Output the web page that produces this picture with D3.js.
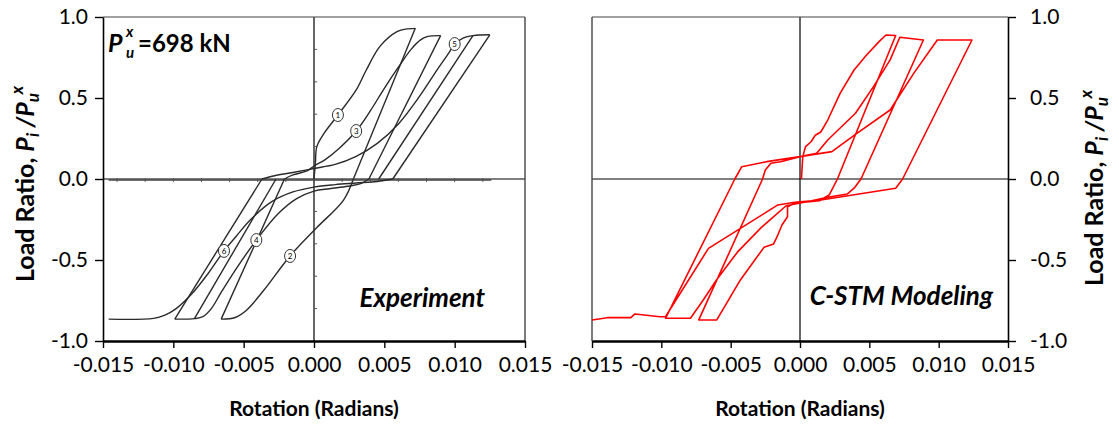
<!DOCTYPE html>
<html>
<head>
<meta charset="utf-8">
<script src="https://cdn.jsdelivr.net/npm/d3@7"></script>
<style>
  body { margin: 0; background: #fff; }
  svg { display: block; }
  text { font-family: Lato, "Open Sans", "Liberation Sans", sans-serif; fill: #000; }
</style>
</head>
<body>
<svg id="chart" width="1119" height="425"></svg>
<script>
// ---- axis ticks ----
const rotationTicks = [-0.015, -0.010, -0.005, 0.000, 0.005, 0.010, 0.015];
const loadTicks = [-1.0, -0.5, 0.0, 0.5, 1.0];

// ---- Experiment: loading branches [rotation, load ratio] ----
const expBranch1 = [[0, 0], [0.0001, 0.1], [0.0002, 0.2], [0.0007, 0.28], [0.0017, 0.395], [0.0030, 0.55],
  [0.0037, 0.67], [0.0047, 0.82], [0.0059, 0.91], [0.0065, 0.925], [0.0072, 0.93]];
const expBranch2 = [[0.0028, 0], [0.0021, -0.13], [0.0002, -0.30], [-0.0017, -0.475], [-0.0036, -0.69],
  [-0.0048, -0.81], [-0.0056, -0.855], [-0.0066, -0.865]];
const expBranch3 = [[-0.0021, 0], [-0.0015, 0.025], [-0.0005, 0.05], [0, 0.08], [0.0008, 0.12], [0.0018, 0.19],
  [0.0030, 0.296], [0.0040, 0.42], [0.0050, 0.56], [0.0060, 0.69], [0.0069, 0.80], [0.0076, 0.86],
  [0.0081, 0.88], [0.0090, 0.885]];
const expBranch4 = [[0.0039, 0], [0.0034, -0.025], [0.0024, -0.045], [0.0011, -0.06], [0, -0.075],
  [-0.0012, -0.12], [-0.0025, -0.21], [-0.0041, -0.377], [-0.0055, -0.55], [-0.0066, -0.70],
  [-0.0073, -0.80], [-0.0079, -0.85], [-0.0085, -0.862], [-0.0099, -0.865]];
const expBranch5 = [[-0.0037, 0], [-0.0028, 0.02], [-0.0015, 0.04], [0, 0.065], [0.0015, 0.09], [0.0030, 0.14],
  [0.0045, 0.22], [0.0060, 0.34], [0.0075, 0.51], [0.0088, 0.68], [0.0096, 0.78], [0.0100, 0.833],
  [0.0106, 0.87], [0.0113, 0.885], [0.0125, 0.89]];
const expBranch6 = [[0.0056, 0], [0.0045, -0.015], [0.0030, -0.025], [0.0015, -0.035], [0, -0.05],
  [-0.0015, -0.08], [-0.0030, -0.14], [-0.0045, -0.25], [-0.0055, -0.35], [-0.0064, -0.444],
  [-0.0075, -0.58], [-0.0087, -0.71], [-0.0098, -0.80], [-0.0106, -0.84], [-0.0114, -0.86], [-0.0146, -0.865]];

// ---- Experiment: straight unloading lines ----
const expUnloading = [
  [[0.0072, 0.93], [0.0028, 0]],
  [[-0.0066, -0.865], [-0.0021, 0]],
  [[0.0090, 0.885], [0.0039, 0]],
  [[-0.0085, -0.862], [-0.0027, 0]],
  [[-0.0099, -0.865], [-0.0037, 0]],
  [[0.0113, 0.885], [0.0046, 0]],
  [[0.0125, 0.89], [0.0056, 0]]
];

// ---- Experiment: cycle number markers ----
const expCycleNumbers = [1, 2, 3, 4, 5, 6];
const expCycleRot = [0.0017, -0.0017, 0.0030, -0.0041, 0.0100, -0.0064];
const expCycleLoad = [0.395, -0.475, 0.296, -0.377, 0.833, -0.444];

// ---- C-STM Modeling: half cycles [rotation, load ratio] ----
const stmHalf1 = [[0.0001, 0], [0.0002, 0.138], [0.0004, 0.2], [0.0008, 0.23], [0.0011, 0.27], [0.0015, 0.29],
  [0.0020, 0.364], [0.0029, 0.53], [0.0039, 0.673], [0.0048, 0.765], [0.0057, 0.848], [0.0062, 0.889],
  [0.0069, 0.886]];
const stmHalf2 = [[0.0027, 0], [0.0021, -0.099], [0.0014, -0.134], [-0.0004, -0.15], [-0.0009, -0.171],
  [-0.0009, -0.233], [-0.0013, -0.284], [-0.0016, -0.346], [-0.0019, -0.401], [-0.0026, -0.422],
  [-0.0043, -0.623], [-0.0060, -0.87], [-0.0073, -0.87]];
const stmHalf3 = [[-0.0027, 0], [-0.0025, 0.056], [-0.0021, 0.097], [-0.0014, 0.107], [0, 0.138],
  [0.0012, 0.159], [0.0020, 0.241], [0.0040, 0.406], [0.0053, 0.57], [0.0065, 0.735], [0.0072, 0.875],
  [0.0089, 0.858]];
const stmHalf4 = [[0.0044, 0], [0.0039, -0.057], [0.0034, -0.093], [0.0020, -0.113], [0.0005, -0.14],
  [-0.0010, -0.165], [-0.0028, -0.30], [-0.0045, -0.45], [-0.0060, -0.62], [-0.0070, -0.75],
  [-0.0079, -0.86], [-0.0097, -0.86]];
const stmHalf5 = [[-0.0047, 0], [-0.0042, 0.076], [-0.0024, 0.107], [0, 0.138], [0.0023, 0.169],
  [0.0041, 0.282], [0.0065, 0.426], [0.0082, 0.652], [0.0099, 0.858], [0.0124, 0.858]];
const stmHalf6 = [[0.0074, 0], [0.0069, -0.057], [0.0015, -0.13], [-0.0004, -0.144], [-0.0016, -0.16],
  [-0.0066, -0.428], [-0.0097, -0.85], [-0.0101, -0.85], [-0.0119, -0.833], [-0.0122, -0.856],
  [-0.0139, -0.856], [-0.0150, -0.87]];

const svg = d3.select("#chart");
const fmtRot = d => d.toFixed(3);
const fmtLoad = d => d.toFixed(1);

function makePanel(x0, x1) {
  const x = d3.scaleLinear().domain([-0.015, 0.015]).range([x0, x1]);
  const y = d3.scaleLinear().domain([-1, 1]).range([341, 17]);
  return { x, y };
}

function drawFrame(p, yAxisSide) {
  const g = svg.append("g");
  const [xa, xb] = p.x.range();
  // zero reference lines
  g.append("line").attr("x1", xa).attr("x2", xb).attr("y1", p.y(0)).attr("y2", p.y(0))
    .attr("stroke", "#000").attr("stroke-width", 1.2);
  g.append("line").attr("x1", p.x(0)).attr("x2", p.x(0)).attr("y1", p.y(1)).attr("y2", p.y(-1))
    .attr("stroke", "#000").attr("stroke-width", 1.2);
  // box top and the side without an axis
  g.append("line").attr("x1", xa).attr("x2", xb).attr("y1", p.y(1)).attr("y2", p.y(1))
    .attr("stroke", "#444").attr("stroke-width", 1.2);
  const sx = yAxisSide === "left" ? xb : xa;
  g.append("line").attr("x1", sx).attr("x2", sx).attr("y1", p.y(1)).attr("y2", p.y(-1))
    .attr("stroke", "#444").attr("stroke-width", 1.4);

  // y axis
  const yAxis = (yAxisSide === "left" ? d3.axisLeft(p.y) : d3.axisRight(p.y))
    .tickValues(loadTicks).tickFormat(fmtLoad).tickSize(8).tickSizeOuter(0)
    .tickPadding(yAxisSide === "left" ? 7 : 14);
  const ya = g.append("g")
    .attr("transform", `translate(${yAxisSide === "left" ? xa : xb},0)`)
    .call(yAxis);
  ya.select(".domain").attr("stroke", "#000").attr("stroke-width", 1.6);
  ya.selectAll(".tick line").attr("stroke", "#000").attr("stroke-width", 1.4);
  ya.selectAll("text").attr("font-size", 21).attr("font-family", "Lato, sans-serif")
    .attr("text-anchor", yAxisSide === "left" ? "end" : "start");

  // x axis
  const xAxis = d3.axisBottom(p.x).tickValues(rotationTicks).tickFormat(fmtRot)
    .tickSize(7).tickSizeOuter(0).tickPadding(9);
  const xa2 = g.append("g").attr("transform", `translate(0,${p.y(-1)})`).call(xAxis);
  xa2.select(".domain").attr("stroke", "#000").attr("stroke-width", 2.6);
  xa2.selectAll(".tick line").attr("stroke", "#000").attr("stroke-width", 1.4);
  xa2.selectAll("text").attr("font-size", 21).attr("font-family", "Lato, sans-serif");

  // axis title
  g.append("text").attr("x", p.x(0)).attr("y", 416).attr("text-anchor", "middle")
    .attr("font-size", 21).attr("font-weight", "bold").text("Rotation (Radians)");
  return g;
}

function loadRatioTitle(cx, cy) {
  const t = svg.append("text")
    .attr("transform", `translate(${cx},${cy}) rotate(-90)`)
    .attr("text-anchor", "middle").attr("font-size", 25).attr("font-weight", "bold");
  t.append("tspan").text("Load Ratio, ");
  t.append("tspan").attr("font-style", "italic").text("P");
  t.append("tspan").attr("font-style", "italic").attr("font-size", 17).attr("dy", 5).text("i");
  t.append("tspan").attr("font-style", "italic").attr("dy", -5).text(" /P");
  t.append("tspan").attr("font-style", "italic").attr("font-size", 17).attr("dy", 5).text("u");
  t.append("tspan").attr("font-style", "italic").attr("font-size", 17).attr("dx", -5).attr("dy", -16).text(" x");
}

// ---------- left panel: experiment ----------
const pL = makePanel(103, 525);
drawFrame(pL, "left");

// grid line and ticks of the original test record
const expGrid = svg.append("g");
expGrid.append("line")
  .attr("x1", pL.x(-0.0146)).attr("x2", pL.x(0.0126))
  .attr("y1", pL.y(-0.006)).attr("y2", pL.y(-0.006))
  .attr("stroke", "#444").attr("stroke-width", 1.4);
expGrid.selectAll("line.rt").data(d3.range(-14, 13, 2).map(v => v / 1000)).join("line")
  .attr("class", "rt")
  .attr("x1", d => pL.x(d)).attr("x2", d => pL.x(d))
  .attr("y1", pL.y(-0.006) - 2).attr("y2", pL.y(-0.006) + 2)
  .attr("stroke", "#555").attr("stroke-width", 1);
expGrid.selectAll("line.lt").data([-0.8, -0.6, -0.4, -0.2, 0.2, 0.4, 0.6, 0.8]).join("line")
  .attr("class", "lt")
  .attr("x1", pL.x(0)).attr("x2", pL.x(0) + 3)
  .attr("y1", d => pL.y(d)).attr("y2", d => pL.y(d))
  .attr("stroke", "#555").attr("stroke-width", 1);

const smooth = d3.line().x(d => pL.x(d[0])).y(d => pL.y(d[1])).curve(d3.curveCatmullRom.alpha(0.5));
const straight = d3.line().x(d => pL.x(d[0])).y(d => pL.y(d[1]));
const expG = svg.append("g").attr("fill", "none").attr("stroke", "#2a2a2a")
  .attr("stroke-width", 1.4).attr("stroke-linejoin", "round");
[expBranch1, expBranch2, expBranch3, expBranch4, expBranch5, expBranch6].forEach(b =>
  expG.append("path").attr("d", smooth(b)));
expUnloading.forEach(b => expG.append("path").attr("d", straight(b)));

const marks = svg.append("g");
expCycleNumbers.forEach((n, i) => {
  const cx = pL.x(expCycleRot[i]), cy = pL.y(expCycleLoad[i]);
  marks.append("ellipse").attr("cx", cx).attr("cy", cy).attr("rx", 5.5).attr("ry", 6.5)
    .attr("fill", "#fff").attr("stroke", "#333").attr("stroke-width", 1);
  marks.append("text").attr("x", cx).attr("y", cy + 3).attr("text-anchor", "middle")
    .attr("font-size", 8).attr("fill", "#333").text(n);
});

// ultimate load annotation: P with stacked sub/superscript
const serifMath = "'DejaVu Serif', 'Liberation Serif', serif";
svg.append("text").attr("x", 108).attr("y", 52).attr("font-family", serifMath)
  .attr("font-weight", "bold").attr("font-style", "italic").attr("font-size", 25).text("P");
svg.append("text").attr("x", 126).attr("y", 37).attr("font-family", serifMath)
  .attr("font-style", "italic").attr("font-weight", "bold").attr("font-size", 15).text("x");
svg.append("text").attr("x", 126).attr("y", 58).attr("font-family", serifMath)
  .attr("font-style", "italic").attr("font-weight", "bold").attr("font-size", 15).text("u");
svg.append("text").attr("x", 138).attr("y", 52).attr("font-weight", "bold").attr("font-size", 24)
  .text("=698 kN");

svg.append("text").attr("x", 485).attr("y", 307).attr("text-anchor", "end")
  .attr("font-size", 26).attr("font-weight", "bold").attr("font-style", "italic").text("Experiment");

loadRatioTitle(34, 184);

// ---------- right panel: C-STM modeling ----------
const pR = makePanel(592, 1008);
drawFrame(pR, "right");

const stmLine = d3.line().x(d => pR.x(d[0])).y(d => pR.y(d[1]));
const stmPath = [].concat(
  stmHalf1, stmHalf2, stmHalf3, stmHalf4, stmHalf5, stmHalf6);
svg.append("path").attr("d", stmLine(stmPath))
  .attr("fill", "none").attr("stroke", "#ff0000").attr("stroke-width", 1.6)
  .attr("stroke-linejoin", "round");

svg.append("text").attr("x", 993).attr("y", 305).attr("text-anchor", "end")
  .attr("font-size", 26).attr("font-weight", "bold").attr("font-style", "italic").text("C-STM Modeling");

loadRatioTitle(1103, 188);
</script>
</body>
</html>
